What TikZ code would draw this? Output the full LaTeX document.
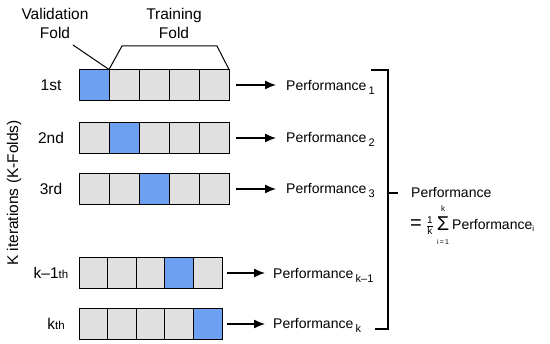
\documentclass[tikz,border=0pt]{standalone}
\usepackage{fontspec}
\setmainfont{Liberation Sans}
\usetikzlibrary{arrows.meta}
\definecolor{foldblue}{HTML}{6EA0F2}
\definecolor{foldgray}{HTML}{E0E0E0}
\tikzset{
  cellA/.style={draw=black, line width=1pt, minimum width=30pt, minimum height=31pt, inner sep=0pt, outer sep=0pt},
  cellB/.style={draw=black, line width=1pt, minimum width=28.6pt, minimum height=31pt, inner sep=0pt, outer sep=0pt},
  val/.style={fill=foldblue},
  trn/.style={fill=foldgray},
  lbl/.style={inner sep=0pt, font=\fontsize{15.5}{19}\selectfont},
  perf/.style={inner sep=0pt, anchor=base west, font=\fontsize{14}{17}\selectfont},
  arr/.style={-{Latex[length=11pt,width=9pt]}, line width=1.3pt},
  brk/.style={line width=1.2pt}
}
\newcommand{\lowsub}[1]{\raisebox{-4pt}{\fontsize{11}{13}\selectfont #1}}
\newcommand{\smallsuf}[1]{{\fontsize{11.5}{13}\selectfont #1}}
\newcommand{\fsz}[2]{\mbox{\fontsize{#1}{#1}\selectfont #2}}
\begin{document}
\begin{tikzpicture}[x=1pt,y=-1pt]
\useasboundingbox (0,0) rectangle (550,344);
\fill[white] (0,0) rectangle (550,344);
% row 1
\foreach \i in {1,...,5}{
  \pgfmathsetmacro{\cx}{79+15+30*(\i-1)}
  \ifnum\i=1 \node[cellA,val] (r1c\i) at (\cx,85) {};
  \else \node[cellA,trn] (r1c\i) at (\cx,85) {}; \fi
}
% row 2
\foreach \i in {1,...,5}{
  \pgfmathsetmacro{\cx}{79+15+30*(\i-1)}
  \ifnum\i=2 \node[cellA,val] (r2c\i) at (\cx,138) {};
  \else \node[cellA,trn] (r2c\i) at (\cx,138) {}; \fi
}
% row 3
\foreach \i in {1,...,5}{
  \pgfmathsetmacro{\cx}{79+15+30*(\i-1)}
  \ifnum\i=3 \node[cellA,val] (r3c\i) at (\cx,189) {};
  \else \node[cellA,trn] (r3c\i) at (\cx,189) {}; \fi
}
% row k-1
\foreach \i in {1,...,5}{
  \pgfmathsetmacro{\cx}{79+14.3+28.6*(\i-1)}
  \ifnum\i=4 \node[cellB,val] (r4c\i) at (\cx,273) {};
  \else \node[cellB,trn] (r4c\i) at (\cx,273) {}; \fi
}
% row k
\foreach \i in {1,...,5}{
  \pgfmathsetmacro{\cx}{79+14.3+28.6*(\i-1)}
  \ifnum\i=5 \node[cellB,val] (r5c\i) at (\cx,324) {};
  \else \node[cellB,trn] (r5c\i) at (\cx,324) {}; \fi
}
% row labels
\node[lbl] (l1) at (51,85) {1st};
\node[lbl] (l2) at (51,138) {2nd};
\node[lbl] (l3) at (51,189) {3rd};
\node[lbl] (l4) at (51,273) {k\textendash1\smallsuf{th}};
\node[lbl] (l5) at (56,324) {k\smallsuf{th}};
% vertical label
\node[lbl, rotate=90] (kit) at (14,193) {K iterations (K-Folds)};
% header
\node[lbl, align=center] (vf) at (55,23) {Validation\\Fold};
\node[lbl, align=center] (tf) at (174,23) {Training\\Fold};
\coordinate (vfe) at (73,45);
\draw[line width=1pt] (vfe) -- (r1c1.north east);
\coordinate (tl) at (122,46);
\coordinate (tr) at (217,46);
\draw[line width=1pt] (r1c2.north west) -- (tl) -- (tr) -- (r1c5.north east);
% performance labels
\node[perf] (p1) at (286,91) {Performance\,\lowsub{1}};
\node[perf] (p2) at (286,143) {Performance\,\lowsub{2}};
\node[perf] (p3) at (286,194) {Performance\,\lowsub{3}};
\node[perf] (p4) at (273,279) {Performance\,\lowsub{k\textendash1}};
\node[perf] (p5) at (273,329) {Performance\,\lowsub{k}};
% arrows
\draw[arr, shorten >=10pt] ([xshift=7pt]r1c5.east) -- (r1c5.east -| p1.west);
\draw[arr, shorten >=10pt] ([xshift=7pt]r2c5.east) -- (r2c5.east -| p2.west);
\draw[arr, shorten >=10pt] ([xshift=7pt]r3c5.east) -- (r3c5.east -| p3.west);
\draw[arr, shorten >=8pt] ([xshift=5pt]r4c5.east) -- (r4c5.east -| p4.west);
\draw[arr, shorten >=8pt] ([xshift=5pt]r5c5.east) -- (r5c5.east -| p5.west);
% bracket
\coordinate (bt0) at (371,70);
\coordinate (bt1) at (388,70);
\coordinate (bb1) at (388,329);
\coordinate (bb0) at (375,329);
\coordinate (bm0) at (388,193);
\coordinate (bm1) at (398,193);
\draw[brk] (bt0) -- (bt1) -- (bb1) -- (bb0);
\draw[brk] (bm0) -- (bm1);
% result
\node[perf, anchor=west] (pr) at (411,193) {Performance};
\node[perf, anchor=west] (pf) at (410,226) {\fsz{20}{=}\hspace{4pt}$\frac{\fsz{10}{1}}{\fsz{10}{k}}$\hspace{3pt}{\renewcommand{\arraystretch}{0.7}\begin{tabular}{@{}c@{}}\fsz{8}{k}\\[1pt]\fsz{20}{Σ}\\[3pt]\fsz{7}{i\,=\,1}\end{tabular}}\hspace{3pt}Performance\raisebox{-2pt}{\fsz{8}{i}}};
\end{tikzpicture}
\end{document}
